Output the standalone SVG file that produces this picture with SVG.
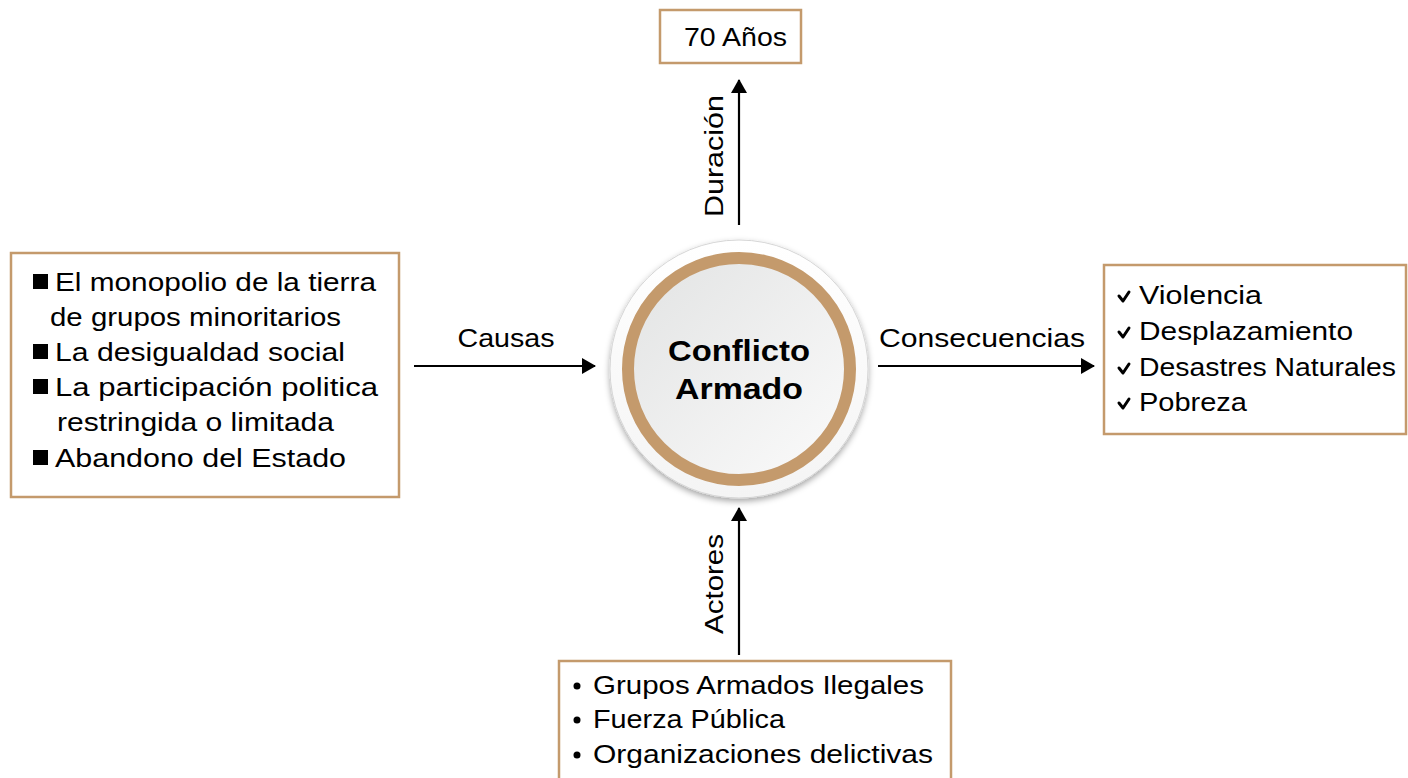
<svg xmlns="http://www.w3.org/2000/svg" width="1408" height="778" viewBox="0 0 1408 778">
<style>
.box{fill:#fff;stroke:#C49A6C;stroke-width:2.5}
.t{font-family:"Liberation Sans",Arial,sans-serif;font-size:26px;fill:#000}
.lbl{font-family:"Liberation Sans",Arial,sans-serif;font-size:26px;fill:#000}
.c{font-family:"Liberation Sans",Arial,sans-serif;font-size:30px;font-weight:bold;fill:#000;text-anchor:middle}
.ln{stroke:#000;stroke-width:2.2;fill:none}
.chk{stroke:#000;stroke-width:3;fill:none;stroke-linecap:round;stroke-linejoin:round}
</style>
<defs>
<marker id="ah" viewBox="0 0 14 16" refX="13" refY="8" markerWidth="14" markerHeight="16" markerUnits="userSpaceOnUse" orient="auto">
<path d="M0,0 L14,8 L0,16 Z" fill="#000"/>
</marker>
<linearGradient id="ig" x1="0" y1="0" x2="1" y2="1">
<stop offset="0" stop-color="#e2e3e3"/>
<stop offset="1" stop-color="#fbfbfb"/>
</linearGradient>
<linearGradient id="og" x1="0" y1="0" x2="0" y2="1">
<stop offset="0" stop-color="#ffffff"/>
<stop offset="1" stop-color="#f4f4f4"/>
</linearGradient>
<filter id="sh" x="-20%" y="-20%" width="140%" height="140%">
<feDropShadow dx="0" dy="3" stdDeviation="3" flood-color="#000" flood-opacity="0.35"/>
</filter>
</defs>

<g id="connectors">
<line class="ln" x1="739" y1="225" x2="739" y2="80" marker-end="url(#ah)"/>
<line class="ln" x1="414" y1="366" x2="595" y2="366" marker-end="url(#ah)"/>
<line class="ln" x1="878" y1="366" x2="1094" y2="366" marker-end="url(#ah)"/>
<line class="ln" x1="739" y1="655" x2="739" y2="508" marker-end="url(#ah)"/>
<text class="lbl" transform="translate(723,156) rotate(-90)" text-anchor="middle" textLength="122" lengthAdjust="spacingAndGlyphs">Duración</text>
<text class="lbl" x="506" y="347" text-anchor="middle" textLength="97" lengthAdjust="spacingAndGlyphs">Causas</text>
<text class="lbl" x="982" y="347" text-anchor="middle" textLength="206" lengthAdjust="spacingAndGlyphs">Consecuencias</text>
<text class="lbl" transform="translate(723,584) rotate(-90)" text-anchor="middle" textLength="100" lengthAdjust="spacingAndGlyphs">Actores</text>
</g>

<g id="center">
<circle cx="739" cy="369" r="129" fill="url(#og)" stroke="#d6d6d6" stroke-width="1" filter="url(#sh)"/>
<circle cx="739" cy="369" r="111" fill="url(#ig)" stroke="#C49A6C" stroke-width="12"/>
<text class="c" x="739" y="361" textLength="142" lengthAdjust="spacingAndGlyphs">Conflicto</text>
<text class="c" x="739" y="399" textLength="128" lengthAdjust="spacingAndGlyphs">Armado</text>
</g>

<g id="duracion">
<rect class="box" x="660" y="10" width="141" height="53"/>
<text class="t" x="684" y="46" textLength="103" lengthAdjust="spacingAndGlyphs">70 Años</text>
</g>

<g id="causas">
<rect class="box" x="11" y="253" width="388" height="244"/>
<rect x="33" y="274" width="15" height="15" fill="#000"/>
<text class="t" x="55" y="291" textLength="321" lengthAdjust="spacingAndGlyphs">El monopolio de la tierra</text>
<text class="t" x="50" y="326" textLength="291" lengthAdjust="spacingAndGlyphs">de grupos minoritarios</text>
<rect x="33" y="344" width="15" height="15" fill="#000"/>
<text class="t" x="55" y="361" textLength="290" lengthAdjust="spacingAndGlyphs">La desigualdad social</text>
<rect x="33" y="379" width="15" height="15" fill="#000"/>
<text class="t" x="55" y="396" textLength="323" lengthAdjust="spacingAndGlyphs">La participación politica</text>
<text class="t" x="57" y="431" textLength="277" lengthAdjust="spacingAndGlyphs">restringida o limitada</text>
<rect x="33" y="450" width="15" height="15" fill="#000"/>
<text class="t" x="55" y="467" textLength="291" lengthAdjust="spacingAndGlyphs">Abandono del Estado</text>
</g>

<g id="consecuencias">
<rect class="box" x="1104" y="265" width="302" height="169"/>
<path class="chk" d="M1119,296 L1123,301 L1129,292"/>
<text class="t" x="1139" y="304" textLength="123" lengthAdjust="spacingAndGlyphs">Violencia</text>
<path class="chk" d="M1119,332 L1123,337 L1129,328"/>
<text class="t" x="1139" y="340" textLength="214" lengthAdjust="spacingAndGlyphs">Desplazamiento</text>
<path class="chk" d="M1119,368 L1123,373 L1129,364"/>
<text class="t" x="1139" y="376" textLength="257" lengthAdjust="spacingAndGlyphs">Desastres Naturales</text>
<path class="chk" d="M1119,403 L1123,408 L1129,399"/>
<text class="t" x="1139" y="411" textLength="108" lengthAdjust="spacingAndGlyphs">Pobreza</text>
</g>

<g id="actores">
<rect class="box" x="559" y="661" width="392" height="130"/>
<circle cx="577" cy="686" r="3.5" fill="#000"/>
<text class="t" x="593" y="694" textLength="331" lengthAdjust="spacingAndGlyphs">Grupos Armados Ilegales</text>
<circle cx="577" cy="720" r="3.5" fill="#000"/>
<text class="t" x="593" y="728" textLength="192" lengthAdjust="spacingAndGlyphs">Fuerza Pública</text>
<circle cx="577" cy="755" r="3.5" fill="#000"/>
<text class="t" x="593" y="763" textLength="340" lengthAdjust="spacingAndGlyphs">Organizaciones delictivas</text>
</g>
</svg>
